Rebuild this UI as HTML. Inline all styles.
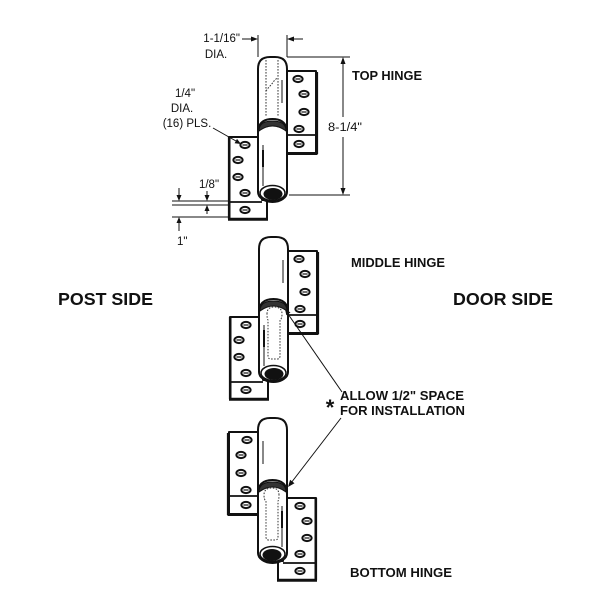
<!DOCTYPE html>
<html><head><meta charset="utf-8"><style>
html,body{margin:0;padding:0;background:#fff;}
svg{display:block;}
text{font-family:"Liberation Sans",Arial,sans-serif;fill:#111;}
.b{font-weight:bold;}
</style></head><body>
<svg width="600" height="600" viewBox="0 0 600 600" xmlns="http://www.w3.org/2000/svg">
<defs>
<g id="hole"><ellipse cx="0" cy="0" rx="4.6" ry="3.1" fill="#fff" stroke="#111" stroke-width="2"/><line x1="-2.6" y1="0" x2="2.6" y2="0" stroke="#111" stroke-width="1.2"/></g>
<g id="h" stroke="#111" stroke-width="2" fill="#fff" stroke-linejoin="round">
  <!-- right leaf -->
  <path d="M284,71 H316 V153 H284 Z"/>
  <line x1="287" y1="135" x2="316" y2="135" stroke-width="1.8"/>
  <line x1="286" y1="153.5" x2="317.5" y2="153.5" stroke-width="3"/>
  <line x1="316.8" y1="72" x2="316.8" y2="154" stroke-width="2.6"/>
  <!-- upper knuckle -->
  <path d="M258,138 V69 Q258,57 270,57 H275 Q287,57 287,69 V138 Z"/>
  <line x1="282" y1="80" x2="282" y2="103" stroke-width="1"/>
  <!-- left leaf with tab -->
  <path d="M262,137 H229 V219 H267 V200 H262 Z"/>
  <line x1="229" y1="202" x2="262" y2="202" stroke-width="1.8"/>
  <line x1="228" y1="219.3" x2="268" y2="219.3" stroke-width="3"/>
  <line x1="229.2" y1="137" x2="229.2" y2="219" stroke-width="2.6"/>
  <!-- lower knuckle -->
  <path d="M258,192 V133 Q258,119 272.5,119 Q287,119 287,133 V192 A14.5,10 0 0 1 258,192 Z"/>
  <path d="M259,131 Q259,121 272.5,121 Q286,121 286,131 Q272.5,121 259,131 Z" fill="#333" stroke-width="1"/>
  <line x1="263" y1="145" x2="263" y2="186" stroke-width="1"/>
  <line x1="263" y1="150" x2="263" y2="167" stroke-width="2"/>
  <ellipse cx="272.5" cy="193" rx="12.5" ry="7.5" fill="#fff" stroke-width="1.5"/>
  <ellipse cx="273" cy="194" rx="9.5" ry="6" fill="#111" stroke="none"/>
  <!-- holes -->
  <use href="#hole" x="298" y="79"/>
  <use href="#hole" x="304" y="94"/>
  <use href="#hole" x="304" y="112"/>
  <use href="#hole" x="299" y="129"/>
  <use href="#hole" x="299" y="144"/>
  <use href="#hole" x="245" y="145"/>
  <use href="#hole" x="238" y="160"/>
  <use href="#hole" x="238" y="177"/>
  <use href="#hole" x="245" y="193"/>
  <use href="#hole" x="245" y="210"/>
</g>
<path id="pin" d="M266,134 Q266,127 273,127 Q281,127 281,134 Q281,139 279,140 V176 Q279,179 276,179 H270 Q267,179 267,176 V140 Q266,139 266,134 Z" fill="none" stroke="#333" stroke-width="1" stroke-dasharray="1.6 1.4"/>
</defs>

<!-- TOP HINGE -->
<use href="#h"/>
<g stroke="#333" stroke-width="1" stroke-dasharray="1.6 1.4" fill="none">
  <line x1="266" y1="60" x2="266" y2="117"/>
  <line x1="278" y1="60" x2="278" y2="117"/>
  <polyline points="266,91 269,87 271,85 274,81 277,78"/>
</g>

<!-- MIDDLE HINGE -->
<g transform="translate(1,180)">
  <use href="#h"/>
  <use href="#pin"/>
</g>

<!-- BOTTOM HINGE -->
<g transform="translate(545,361) scale(-1,1)">
  <use href="#h"/>
  <use href="#pin"/>
</g>

<!-- dimension lines -->
<g stroke="#111" stroke-width="1" fill="none">
  <line x1="242" y1="39" x2="252" y2="39"/>
  <line x1="293" y1="39" x2="303" y2="39"/>
  <line x1="258" y1="35" x2="258" y2="57"/>
  <line x1="287" y1="35" x2="287" y2="57"/>
  <line x1="287" y1="57" x2="350" y2="57"/>
  <line x1="289" y1="195" x2="350" y2="195"/>
  <line x1="343" y1="60" x2="343" y2="117"/>
  <line x1="343" y1="137" x2="343" y2="192"/>
  <line x1="213" y1="128" x2="236" y2="141"/>
  <line x1="172" y1="201" x2="229" y2="201"/>
  <line x1="172" y1="205" x2="229" y2="205"/>
  <line x1="172" y1="217" x2="229" y2="217"/>
  <line x1="179" y1="188" x2="179" y2="196"/>
  <line x1="179" y1="222" x2="179" y2="231"/>
  <line x1="207" y1="191" x2="207" y2="196"/>
  <line x1="207" y1="210" x2="207" y2="214"/>
  <line x1="342" y1="392" x2="288" y2="314"/>
  <line x1="341" y1="418" x2="291" y2="483"/>
</g>
<g fill="#111">
  <polygon points="258,39 251,36.5 251,41.5"/>
  <polygon points="287,39 294,36.5 294,41.5"/>
  <polygon points="343,57 340.5,64 345.5,64"/>
  <polygon points="343,195 340.5,188 345.5,188"/>
  <polygon points="241,144 234.6,143.3 237,138.9"/>
  <polygon points="179,201 176.5,195 181.5,195"/>
  <polygon points="179,217 176.5,223 181.5,223"/>
  <polygon points="207,201 204.5,195 209.5,195"/>
  <polygon points="207,205 204.5,211 209.5,211"/>
  <polygon points="285,309 290.5,312.5 286.3,315.3"/>
  <polygon points="288,487 294.5,483.2 290.1,479.8"/>
</g>

<!-- dimension text -->
<text x="240" y="42" font-size="11.5" text-anchor="end">1-1/16"</text>
<text x="216" y="58" font-size="11.5" text-anchor="middle">DIA.</text>
<text x="185" y="97" font-size="11.5" text-anchor="middle">1/4"</text>
<text x="182" y="112" font-size="11.5" text-anchor="middle">DIA.</text>
<text x="187" y="127" font-size="11.5" text-anchor="middle">(16) PLS.</text>
<text x="328" y="131" font-size="11.5" textLength="34" lengthAdjust="spacingAndGlyphs">8-1/4"</text>
<text x="209" y="188" font-size="11.5" text-anchor="middle">1/8"</text>
<text x="177" y="245" font-size="11.5">1"</text>

<!-- labels -->
<text class="b" x="352" y="80" font-size="12.5" textLength="70" lengthAdjust="spacingAndGlyphs">TOP HINGE</text>
<text class="b" x="351" y="267" font-size="12.5" textLength="94" lengthAdjust="spacingAndGlyphs">MIDDLE HINGE</text>
<text class="b" x="58" y="305" font-size="17.5" textLength="95" lengthAdjust="spacingAndGlyphs">POST SIDE</text>
<text class="b" x="453" y="305" font-size="17.5" textLength="100" lengthAdjust="spacingAndGlyphs">DOOR SIDE</text>
<text class="b" x="330" y="415" font-size="22" text-anchor="middle">*</text>
<text class="b" x="340" y="400" font-size="13" textLength="124" lengthAdjust="spacingAndGlyphs">ALLOW 1/2" SPACE</text>
<text class="b" x="340" y="415" font-size="12.8" textLength="125" lengthAdjust="spacingAndGlyphs">FOR INSTALLATION</text>
<text class="b" x="350" y="577" font-size="12.8" textLength="102" lengthAdjust="spacingAndGlyphs">BOTTOM HINGE</text>
</svg>
</body></html>
